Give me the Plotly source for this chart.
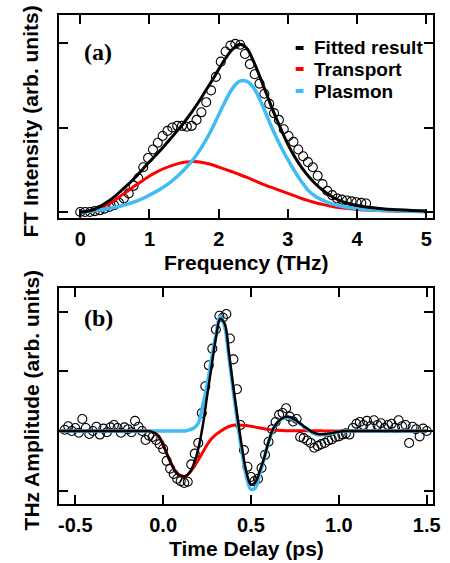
import plotly.graph_objects as go

W, H = 450, 563

# ---------------- Panel (a): FT intensity ----------------
freq_data = [0.0, 0.07, 0.14, 0.21, 0.28, 0.35, 0.42, 0.49, 0.56, 0.63, 0.70, 0.77, 0.84, 0.91, 0.98,
             1.05, 1.12, 1.19, 1.26, 1.33, 1.40, 1.47, 1.54, 1.61, 1.68, 1.75, 1.82, 1.89, 1.96,
             2.03, 2.10, 2.17, 2.24, 2.31, 2.38, 2.45, 2.52, 2.59, 2.66, 2.73, 2.80, 2.87, 2.94,
             3.01, 3.08, 3.15, 3.22, 3.29, 3.36, 3.43, 3.50, 3.57, 3.64, 3.71, 3.78, 3.85, 3.92,
             3.99, 4.06, 4.13]
ft_data = [0.0, 0.0, 0.0, 0.005, 0.01, 0.02, 0.03, 0.04, 0.055, 0.08, 0.11, 0.155, 0.20, 0.265, 0.32,
           0.37, 0.41, 0.45, 0.48, 0.50, 0.51, 0.51, 0.505, 0.51, 0.545, 0.59, 0.65, 0.72, 0.80,
           0.89, 0.95, 0.985, 0.995, 0.99, 0.935, 0.875, 0.815, 0.76, 0.70, 0.64, 0.585, 0.545, 0.49,
           0.45, 0.415, 0.37, 0.33, 0.295, 0.265, 0.215, 0.165, 0.125, 0.10, 0.08, 0.073, 0.068, 0.063,
           0.058, 0.054, 0.05]

freq_fit = [0.0, 0.1, 0.2, 0.3, 0.4, 0.5, 0.6, 0.7, 0.8, 0.9, 1.0, 1.1, 1.2, 1.3, 1.4, 1.5, 1.6, 1.7,
            1.8, 1.9, 2.0, 2.1, 2.2, 2.3, 2.4, 2.5, 2.6, 2.7, 2.8, 2.9, 3.0, 3.1, 3.2, 3.3, 3.4, 3.5,
            3.6, 3.7, 3.8, 3.9, 4.0, 4.2, 4.4, 4.6, 4.8, 5.0]
ft_fitted = [0.0, 0.005, 0.015, 0.036, 0.062, 0.093, 0.13, 0.167, 0.207, 0.252, 0.297, 0.34, 0.385,
             0.432, 0.48, 0.53, 0.585, 0.645, 0.71, 0.775, 0.845, 0.91, 0.963, 0.993, 0.972, 0.895,
             0.795, 0.69, 0.585, 0.49, 0.40, 0.325, 0.262, 0.21, 0.166, 0.13, 0.10, 0.077, 0.06,
             0.048, 0.038, 0.026, 0.018, 0.013, 0.009, 0.006]
ft_transport = [0.0, 0.004, 0.013, 0.026, 0.046, 0.07, 0.10, 0.128, 0.158, 0.185, 0.213, 0.236, 0.256,
                0.272, 0.285, 0.294, 0.298, 0.297, 0.29, 0.28, 0.266, 0.252, 0.237, 0.222, 0.206,
                0.189, 0.171, 0.155, 0.14, 0.125, 0.11, 0.095, 0.08, 0.067, 0.055, 0.045, 0.036,
                0.028, 0.023, 0.019, 0.015, 0.01, 0.007, 0.005, 0.003, 0.002]
ft_plasmon = [0.0, 0.003, 0.008, 0.013, 0.02, 0.028, 0.037, 0.048, 0.063, 0.08, 0.10, 0.122, 0.147,
              0.176, 0.21, 0.25, 0.295, 0.35, 0.415, 0.49, 0.575, 0.66, 0.732, 0.774, 0.775, 0.738,
              0.662, 0.565, 0.47, 0.385, 0.31, 0.24, 0.178, 0.125, 0.092, 0.07, 0.053, 0.041, 0.032,
              0.025, 0.019, 0.013, 0.009, 0.006, 0.004, 0.003]

freq_ticks = [0, 1, 2, 3, 4, 5]
ft_yticks = [0, 0.5, 1.0]

# ---------------- Panel (b): THz amplitude ----------------
time_data = [-0.56, -0.54, -0.52, -0.50, -0.48, -0.46, -0.44, -0.42, -0.40, -0.38, -0.36, -0.34,
             -0.32, -0.30, -0.28, -0.26, -0.24, -0.22, -0.20, -0.18, -0.16, -0.14, -0.12, -0.10,
             -0.08, -0.06, -0.04, -0.02, 0.00, 0.02, 0.04, 0.06, 0.08, 0.10, 0.12, 0.14, 0.16,
             0.18, 0.20, 0.22, 0.24, 0.26, 0.28, 0.30, 0.32, 0.34, 0.36, 0.38, 0.40, 0.42, 0.44,
             0.46, 0.48, 0.50, 0.52, 0.54, 0.56, 0.58, 0.60, 0.62, 0.64, 0.66, 0.68, 0.70, 0.72,
             0.74, 0.76, 0.78, 0.80, 0.82, 0.84, 0.86, 0.88, 0.90, 0.92, 0.94, 0.96, 0.98, 1.00,
             1.02, 1.04, 1.06, 1.08, 1.10, 1.12, 1.14, 1.16, 1.18, 1.20, 1.22, 1.24, 1.26, 1.28,
             1.30, 1.32, 1.34, 1.36, 1.38, 1.40, 1.42, 1.44, 1.46, 1.48, 1.50]
thz_data = [0.02, 0.08, 0.0, 0.05, -0.03, 0.2, 0.05, -0.05, 0.0, 0.07, -0.06, 0.04,
            -0.02, 0.06, 0.1, 0.05, -0.03, 0.06, 0.03, -0.02, 0.17, 0.07, 0.0, -0.15,
            -0.08, -0.1, -0.15, -0.22, -0.3, -0.5, -0.63, -0.72, -0.8, -0.84, -0.87, -0.85, -0.56,
            -0.38, -0.2, 0.3, 0.75, 1.1, 1.38, 1.7, 1.93, 1.9, 1.96, 1.55, 1.2, 0.7, 0.1,
            -0.32, -0.6, -0.77, -0.84, -0.8, -0.62, -0.4, -0.18, 0.03, 0.15, 0.27, 0.3, 0.38, 0.24,
            0.16, 0.2, -0.1, -0.12, -0.16, -0.2, -0.28, -0.25, -0.22, -0.2, -0.16, -0.14, -0.1, -0.09,
            -0.06, -0.04, -0.06, 0.05, 0.12, 0.15, 0.1, 0.17, 0.08, 0.18, 0.1, 0.13, 0.05, 0.1,
            0.12, 0.05, 0.18, 0.08, 0.1, -0.2, 0.07, 0.03, -0.09, 0.04, 0.0]

time_fit = [-0.59, -0.3, -0.1, -0.075, -0.05, -0.025, 0.0, 0.025, 0.05, 0.075, 0.1, 0.125, 0.15,
            0.175, 0.2, 0.225, 0.25, 0.275, 0.3, 0.325, 0.35, 0.375, 0.4, 0.425, 0.45, 0.475,
            0.5, 0.525, 0.55, 0.575, 0.6, 0.625, 0.65, 0.675, 0.7, 0.725, 0.75, 0.775, 0.8,
            0.825, 0.85, 0.875, 0.9, 0.925, 0.95, 0.975, 1.0, 1.05, 1.2, 1.5]
thz_fitted = [0.0, 0.0, 0.0, -0.005, -0.03, -0.09, -0.23, -0.41, -0.57, -0.70, -0.75, -0.76, -0.70,
              -0.55, -0.30, 0.08, 0.58, 1.07, 1.55, 1.88, 1.80, 1.30, 0.73, 0.20, -0.30, -0.70,
              -0.90, -0.86, -0.67, -0.45, -0.18, 0.03, 0.14, 0.21, 0.24, 0.23, 0.19, 0.14, 0.08,
              0.03, -0.02, -0.045, -0.055, -0.05, -0.04, -0.025, -0.012, 0.0, 0.0, 0.0]
thz_transport = [0.0, 0.0, 0.0, -0.005, -0.03, -0.09, -0.23, -0.41, -0.57, -0.70, -0.75, -0.76, -0.70,
                 -0.60, -0.486, -0.36, -0.23, -0.13, -0.06, -0.01, 0.04, 0.075, 0.095, 0.10, 0.097,
                 0.09, 0.078, 0.065, 0.05, 0.038, 0.027, 0.019, 0.012, 0.008, 0.005, 0.004, 0.003,
                 0.003, 0.003, 0.003, 0.002, 0.002, 0.002, 0.001, 0.001, 0.001, 0.0, 0.0, 0.0, 0.0]
thz_plasmon = [0.0, 0.0, 0.0, 0.0, 0.0, 0.0, 0.0, 0.0, 0.0, 0.0, 0.0, 0.0, 0.02,
               0.05, 0.13, 0.42, 0.77, 1.20, 1.60, 1.92, 1.75, 1.22, 0.65, 0.10, -0.38, -0.78,
               -0.98, -0.95, -0.72, -0.46, -0.19, 0.02, 0.14, 0.20, 0.23, 0.22, 0.18, 0.13, 0.07,
               0.02, -0.03, -0.06, -0.065, -0.06, -0.045, -0.03, -0.015, 0.0, 0.0, 0.0]

time_ticks = [-0.5, 0.0, 0.5, 1.0, 1.5]
time_ticklabels = ["-0.5", "0.0", "0.5", "1.0", "1.5"]
thz_yticks = [-1, 0, 1, 2]

legend_names = ["Fitted result", "Transport", "Plasmon"]

BLACK = "#000000"
RED = "#ff0000"
BLUE = "#3fbcf5"

fig = go.Figure()

marker = dict(symbol="circle-open", size=9, color=BLACK, line=dict(width=1.1, color=BLACK))

# panel a
fig.add_trace(go.Scatter(x=freq_data, y=ft_data, mode="markers", marker=marker,
                         xaxis="x", yaxis="y", showlegend=False))
fig.add_trace(go.Scatter(x=freq_fit, y=ft_transport, mode="lines", line=dict(color=RED, width=3, shape="spline"),
                         xaxis="x", yaxis="y", showlegend=False))
fig.add_trace(go.Scatter(x=freq_fit, y=ft_plasmon, mode="lines", line=dict(color=BLUE, width=3.5, shape="spline"),
                         xaxis="x", yaxis="y", showlegend=False))
fig.add_trace(go.Scatter(x=freq_fit, y=ft_fitted, mode="lines", line=dict(color=BLACK, width=3, shape="spline"),
                         xaxis="x", yaxis="y", showlegend=False))

# panel b
fig.add_trace(go.Scatter(x=time_data, y=thz_data, mode="markers", marker=marker,
                         xaxis="x2", yaxis="y2", showlegend=False))
fig.add_trace(go.Scatter(x=time_fit, y=thz_transport, mode="lines", line=dict(color=RED, width=3, shape="spline"),
                         xaxis="x2", yaxis="y2", showlegend=False))
fig.add_trace(go.Scatter(x=time_fit, y=thz_plasmon, mode="lines", line=dict(color=BLUE, width=3.5, shape="spline"),
                         xaxis="x2", yaxis="y2", showlegend=False))
fig.add_trace(go.Scatter(x=time_fit, y=thz_fitted, mode="lines", line=dict(color=BLACK, width=2.5, shape="spline"),
                         xaxis="x2", yaxis="y2", showlegend=False))

def px(x):
    return x / W

def py(y):
    return 1 - y / H

tickfont = dict(family="Liberation Sans, Arial, sans-serif", size=20, color=BLACK, weight="bold")
axis_common = dict(showline=True, linewidth=2, linecolor=BLACK, mirror="ticks", ticks="inside",
                   ticklen=9, tickwidth=2, tickcolor=BLACK, showgrid=False, zeroline=False,
                   tickfont=tickfont)

fig.update_layout(
    width=W, height=H, margin=dict(l=0, r=0, t=0, b=0),
    paper_bgcolor="white", plot_bgcolor="white",
    xaxis=dict(domain=[px(59), px(440)], range=[-0.308, 5.099], tickvals=freq_ticks,
               anchor="y", ticklabelstandoff=2, **axis_common),
    yaxis=dict(domain=[py(218), py(15)], range=[-0.0355, 1.166], tickvals=ft_yticks,
               showticklabels=False, anchor="x", **axis_common),
    xaxis2=dict(domain=[px(59), px(440)], range=[-0.593, 1.537], tickvals=time_ticks,
                ticktext=time_ticklabels, anchor="y2", ticklabelstandoff=2, **axis_common),
    yaxis2=dict(domain=[py(504), py(288)], range=[-1.223, 2.395], tickvals=thz_yticks,
                showticklabels=False, anchor="x2", **axis_common),
    showlegend=False,
)

lab = dict(family="Liberation Sans, Arial, sans-serif", size=21, color=BLACK, weight="bold")
ann = []
ann.append(dict(text="Frequency (THz)", x=px(250), y=py(262), xref="paper", yref="paper",
                xanchor="center", yanchor="middle", showarrow=False, font=lab))
ann.append(dict(text="Time Delay (ps)", x=px(250), y=py(548), xref="paper", yref="paper",
                xanchor="center", yanchor="middle", showarrow=False, font=lab))
ann.append(dict(text="FT Intensity (arb. units)", x=px(30), y=py(121), xref="paper", yref="paper",
                xanchor="center", yanchor="middle", textangle=-90, showarrow=False, font=lab))
ann.append(dict(text="THz Amplitude (arb. units)", x=px(31), y=py(400), xref="paper", yref="paper",
                xanchor="center", yanchor="middle", textangle=-90, showarrow=False, font=lab))
serif = dict(family="Liberation Serif, Times New Roman, serif", size=24, color=BLACK, weight="bold")
ann.append(dict(text="(a)", x=px(82), y=py(52), xref="paper", yref="paper",
                xanchor="left", yanchor="middle", showarrow=False, font=serif))
ann.append(dict(text="(b)", x=px(82), y=py(318), xref="paper", yref="paper",
                xanchor="left", yanchor="middle", showarrow=False, font=serif))
ann.append(dict(text="图1", x=px(6), y=py(556), xref="paper", yref="paper",
                xanchor="left", yanchor="top", showarrow=False,
                font=dict(family="Noto Sans CJK SC", size=20, color=BLACK, weight="bold")))

# manual legend
leg_font = dict(family="Liberation Sans, Arial, sans-serif", size=19, color=BLACK, weight="bold")
shapes = []
for name, col, yc in zip(legend_names, [BLACK, RED, BLUE], [48, 69, 91]):
    shapes.append(dict(type="line", xref="paper", yref="paper", x0=px(300), x1=px(308),
                       y0=py(yc), y1=py(yc), line=dict(color=col, width=4)))
    ann.append(dict(text=name, x=px(317), y=py(yc), xref="paper", yref="paper",
                    xanchor="left", yanchor="middle", showarrow=False, font=leg_font))

fig.update_layout(annotations=ann, shapes=shapes)
fig.write_html("out.html", config={"displayModeBar": False},
               post_script="document.body.style.margin='0';document.body.style.overflow='hidden';")
